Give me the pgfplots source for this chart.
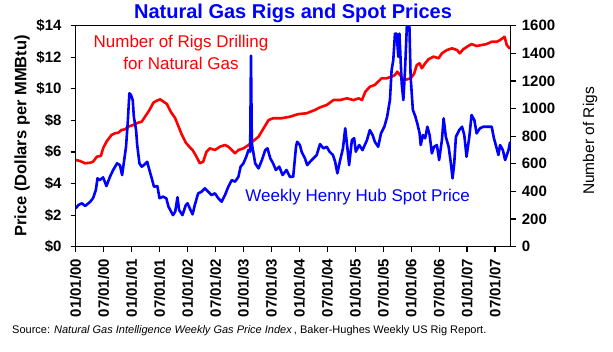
\documentclass[border=0pt]{standalone}
\usepackage{pgfplots}
\pgfplotsset{compat=1.18}
\usepackage{fontspec}
\setmainfont{Liberation Sans}
\definecolor{pblue}{RGB}{0,0,255}
\definecolor{pred}{RGB}{255,0,0}

\pgfplotstableread{
yr rigs
2000.00 628
2000.08 620
2000.17 604
2000.26 608
2000.31 615
2000.38 652
2000.45 657
2000.49 712
2000.55 760
2000.64 809
2000.70 821
2000.76 825
2000.82 845
2000.88 850
2000.94 869
2001.03 881
2001.12 898
2001.18 905
2001.24 941
2001.32 990
2001.39 1043
2001.45 1057
2001.51 1067
2001.57 1050
2001.63 1033
2001.70 977
2001.78 930
2001.84 869
2001.90 809
2001.97 753
2002.04 720
2002.09 700
2002.16 652
2002.22 604
2002.28 615
2002.34 688
2002.40 712
2002.49 700
2002.58 724
2002.67 736
2002.73 724
2002.79 700
2002.85 676
2002.91 700
2003.00 712
2003.09 736
2003.18 767
2003.27 796
2003.36 857
2003.45 917
2003.53 930
2003.68 930
2003.83 941
2003.98 960
2004.13 966
2004.28 990
2004.37 1009
2004.49 1026
2004.61 1062
2004.73 1062
2004.85 1074
2004.97 1062
2005.06 1074
2005.12 1062
2005.18 1122
2005.26 1158
2005.35 1171
2005.41 1195
2005.47 1219
2005.56 1219
2005.65 1231
2005.71 1243
2005.75 1267
2005.80 1243
2005.87 1207
2005.93 1212
2005.99 1219
2006.05 1250
2006.10 1315
2006.15 1328
2006.19 1292
2006.25 1328
2006.31 1357
2006.40 1376
2006.49 1364
2006.55 1400
2006.64 1424
2006.73 1436
2006.82 1424
2006.87 1400
2006.93 1429
2007.02 1453
2007.08 1467
2007.17 1453
2007.26 1460
2007.35 1467
2007.44 1484
2007.53 1484
2007.59 1496
2007.67 1520
2007.71 1460
2007.76 1436
2007.78 1440
}\rigtable

\pgfplotstableread{
yr price
2000.00 2.43
2000.05 2.64
2000.11 2.75
2000.17 2.58
2000.26 2.85
2000.31 3.07
2000.36 3.59
2000.39 4.33
2000.43 4.22
2000.49 4.39
2000.55 3.84
2000.61 4.41
2000.67 4.86
2000.74 5.28
2000.79 5.17
2000.83 4.54
2000.86 5.30
2000.90 6.33
2000.93 7.81
2000.96 9.72
2000.99 9.60
2001.02 9.29
2001.04 8.23
2001.08 7.39
2001.10 6.44
2001.14 5.28
2001.18 5.07
2001.22 5.17
2001.28 5.38
2001.31 4.96
2001.36 4.33
2001.40 3.80
2001.46 3.84
2001.50 3.07
2001.56 3.17
2001.62 3.07
2001.66 2.53
2001.74 2.00
2001.78 2.22
2001.82 3.13
2001.85 2.32
2001.91 2.00
2001.97 2.64
2002.00 2.75
2002.04 2.43
2002.09 2.05
2002.13 2.64
2002.19 3.38
2002.25 3.48
2002.31 3.70
2002.37 3.48
2002.43 3.27
2002.49 3.38
2002.55 3.07
2002.61 2.85
2002.67 3.27
2002.73 3.80
2002.79 4.22
2002.85 4.12
2002.91 4.43
2002.95 5.07
2003.00 5.28
2003.05 5.70
2003.09 6.12
2003.12 6.02
2003.135 12.10
2003.15 6.60
2003.16 6.33
2003.21 5.28
2003.27 4.96
2003.33 5.49
2003.39 6.12
2003.43 6.23
2003.48 5.60
2003.53 5.28
2003.58 4.86
2003.64 5.07
2003.70 4.54
2003.77 4.86
2003.83 4.43
2003.89 4.43
2003.94 6.33
2003.96 6.65
2004.01 6.44
2004.04 6.02
2004.10 5.60
2004.14 5.17
2004.22 5.49
2004.31 5.81
2004.37 6.50
2004.43 6.23
2004.49 6.33
2004.54 6.02
2004.60 5.81
2004.64 5.38
2004.68 4.65
2004.73 5.49
2004.78 6.23
2004.82 7.50
2004.86 6.23
2004.89 5.17
2004.94 6.76
2004.98 6.87
2005.01 6.02
2005.07 6.44
2005.13 6.12
2005.21 6.76
2005.26 7.39
2005.31 7.07
2005.35 6.65
2005.41 6.33
2005.46 7.18
2005.52 7.60
2005.57 8.23
2005.62 9.29
2005.65 11.19
2005.68 11.82
2005.71 13.50
2005.74 13.50
2005.77 12.03
2005.79 13.50
2005.83 10.35
2005.86 9.29
2005.89 11.19
2005.93 14.60
2005.96 15.20
2005.99 10.77
2006.03 8.66
2006.07 8.30
2006.11 7.80
2006.15 7.20
2006.17 6.44
2006.21 7.07
2006.25 6.87
2006.29 7.60
2006.33 7.07
2006.37 5.91
2006.41 6.33
2006.46 6.44
2006.50 5.49
2006.55 6.76
2006.58 8.13
2006.62 6.96
2006.67 6.33
2006.71 5.28
2006.74 4.33
2006.77 5.28
2006.80 6.96
2006.86 7.39
2006.91 7.60
2006.95 7.07
2006.99 5.70
2007.04 6.96
2007.08 8.34
2007.13 8.02
2007.17 7.18
2007.23 7.50
2007.29 7.60
2007.36 7.60
2007.44 7.60
2007.48 6.87
2007.53 6.23
2007.56 5.81
2007.59 6.44
2007.64 6.12
2007.68 5.49
2007.74 6.12
2007.77 6.65
}\pricetable

\begin{document}
\begin{tikzpicture}[x=1pt,y=1pt]
\path[use as bounding box] (0,0) rectangle (613,351);
\pgfplotsset{
  common/.style={
    at={(75.7pt,104.3pt)}, anchor=south west,
    scale only axis, width=435pt, height=221pt,
    xmin=2000, xmax=2007.78,
    tick align=outside, major tick length=5pt,
    every tick/.style={black, line width=1.2pt},
    axis line style={black, line width=1.2pt},
  }
}
% Rigs axis (right)
\begin{axis}[common,
  ymin=0, ymax=1600,
  axis x line=none, axis y line*=right,
  ytick={0,200,400,600,800,1000,1200,1400,1600},
  yticklabels={0,200,400,600,800,1000,1200,1400,1600},
  yticklabel style={font=\fontsize{15}{15}\selectfont\bfseries, inner sep=0pt, anchor=west},
  yticklabel shift=6pt,
]
\addplot[pred, line width=2.6pt, line join=round] table[x=yr, y=rigs] {\rigtable};
\end{axis}
% Price axis (left)
\begin{axis}[common,
  ymin=0, ymax=14,
  ytick pos=left, xtick pos=bottom,
  ytick={0,2,4,6,8,10,12,14},
  yticklabels={\$0,\$2,\$4,\$6,\$8,\$10,\$12,\$14},
  yticklabel style={font=\fontsize{15}{15}\selectfont\bfseries, inner sep=0pt, anchor=east},
  yticklabel shift=9pt,
  xtick={2000,2000.5,2001,2001.5,2002,2002.5,2003,2003.5,2004,2004.5,2005,2005.5,2006,2006.5,2007,2007.5},
  xticklabels={01/01/00,07/01/00,01/01/01,07/01/01,01/01/02,07/01/02,01/01/03,07/01/03,01/01/04,07/01/04,01/01/05,07/01/05,01/01/06,07/01/06,01/01/07,07/01/07},
  xticklabel style={font=\fontsize{15}{15}\selectfont\bfseries, inner sep=0pt, rotate=90, anchor=east},
  xticklabel shift=7pt,
]
\addplot[pblue, line width=2.6pt, line join=round] table[x=yr, y=price] {\pricetable};
\end{axis}
% Titles and annotations
\node[font=\fontsize{20}{20}\selectfont\bfseries, text=pblue] at (293,338) {Natural Gas Rigs and Spot Prices};
\node[rotate=90, font=\fontsize{16.5}{16.5}\selectfont\bfseries] at (22,215) {Price (Dollars per MMBtu)};
\node[rotate=90, font=\fontsize{15.5}{15.5}\selectfont] at (590,210) {Number of Rigs};
\node[font=\fontsize{17}{17}\selectfont, text=pred, align=center] at (181,308) {Number of Rigs Drilling};
\node[font=\fontsize{17}{17}\selectfont, text=pred, align=center] at (181,288) {for Natural Gas};
\node[font=\fontsize{17}{17}\selectfont, text=pblue] at (357.7,154) {Weekly Henry Hub Spot Price};
\node[font=\fontsize{11}{11}\selectfont, anchor=west, inner sep=0pt] at (12,20) {Source: \textit{Natural Gas Intelligence Weekly Gas Price Index}\,, Baker-Hughes Weekly US Rig Report.};
\end{tikzpicture}
\end{document}
